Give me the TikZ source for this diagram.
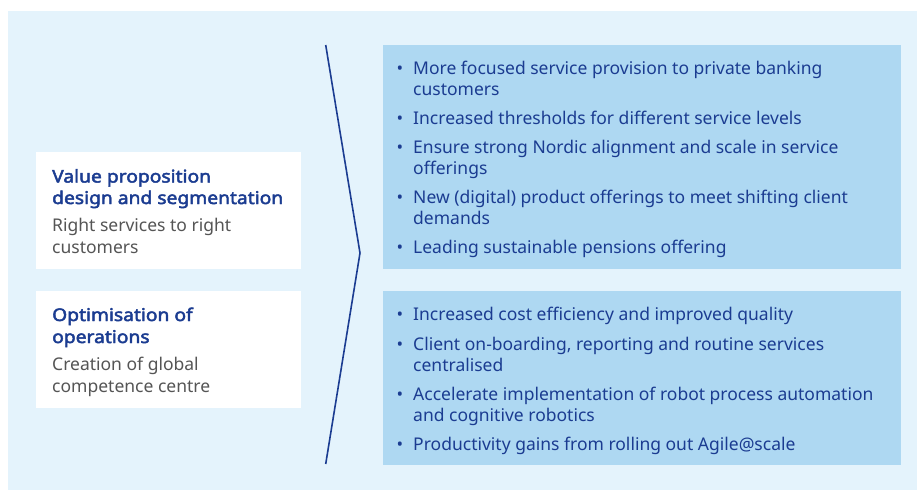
\documentclass[tikz,border=0pt]{standalone}
\usepackage{fontspec}
\setmainfont{Noto Sans}
\newfontfamily\hdfont{Noto Sans}[FakeBold=2.6, FakeStretch=1.1]
\definecolor{bgblue}{RGB}{228,243,252}
\definecolor{boxblue}{RGB}{174,216,242}
\definecolor{tblue}{RGB}{27,60,145}
\definecolor{tgrey}{RGB}{85,85,85}
\newcommand\fsz{\fontsize{17.5}{21}\selectfont}
\begin{document}
\begin{tikzpicture}[x=1pt,y=-1pt,
  txt/.style={anchor=base west, inner sep=0pt, font=\fsz, text=tblue},
  hd/.style={txt, font=\hdfont\fsz},
  sub/.style={txt, text=tgrey},
  bul/.style={anchor=base, inner sep=0pt, font=\fsz, text=tblue},
  panel/.style={draw=none, inner sep=0pt}]
\useasboundingbox (0,0) rectangle (917,490);
\fill[white] (0,0) rectangle (917,490);
\fill[bgblue] (8,11) rectangle (917,490);
% left white boxes
\node[panel, fill=white, anchor=north west, minimum width=265pt, minimum height=117pt] (lb1) at (36,152) {};
\node[panel, fill=white, anchor=north west, minimum width=265pt, minimum height=117pt] (lb2) at (36,291) {};
% right blue boxes
\node[panel, fill=boxblue, anchor=north west, minimum width=518pt, minimum height=224pt] (rb1) at (383,45) {};
\node[panel, fill=boxblue, anchor=north west, minimum width=518pt, minimum height=174pt] (rb2) at (383,291) {};
% chevron
\coordinate (ctop) at (325.7,45);
\coordinate (ctip) at (360,253);
\coordinate (cbot) at (325.7,464);
\draw[tblue, line width=1.6pt] (ctop) -- (ctip) -- (cbot);
% left texts
\node[hd] (l1a) at (52,182.5) {Value proposition};
\node[hd] (l1b) at (52,204) {design and segmentation};
\node[sub] (l1c) at (52,231) {Right services to right};
\node[sub] (l1d) at (52,253) {customers};
\node[hd] (l2a) at (52,321) {Optimisation of};
\node[hd] (l2b) at (52,343) {operations};
\node[sub] (l2c) at (52,370) {Creation of global};
\node[sub] (l2d) at (52,392.5) {competence centre};
% right box 1
\node[bul] (b11) at (400,74.3) {•};
\node[txt] (t11a) at (413,74.3) {More focused service provision to private banking};
\node[txt] (t11b) at (413,95) {customers};
\node[bul] (b12) at (400,124) {•};
\node[txt] (t12a) at (413,124) {Increased thresholds for different service levels};
\node[bul] (b13) at (400,153) {•};
\node[txt] (t13a) at (413,153) {Ensure strong Nordic alignment and scale in service};
\node[txt] (t13b) at (413,174) {offerings};
\node[bul] (b14) at (400,203) {•};
\node[txt] (t14a) at (413,203) {New (digital) product offerings to meet shifting client};
\node[txt] (t14b) at (413,224) {demands};
\node[bul] (b15) at (400,253) {•};
\node[txt] (t15a) at (413,253) {Leading sustainable pensions offering};
% right box 2
\node[bul] (b21) at (400,320) {•};
\node[txt] (t21a) at (413,320) {Increased cost efficiency and improved quality};
\node[bul] (b22) at (400,350) {•};
\node[txt] (t22a) at (413,350) {Client on-boarding, reporting and routine services};
\node[txt] (t22b) at (413,371) {centralised};
\node[bul] (b23) at (400,400) {•};
\node[txt] (t23a) at (413,400) {Accelerate implementation of robot process automation};
\node[txt] (t23b) at (413,421) {and cognitive robotics};
\node[bul] (b24) at (400,450) {•};
\node[txt] (t24a) at (413,450) {Productivity gains from rolling out Agile@scale};
\end{tikzpicture}
\end{document}
